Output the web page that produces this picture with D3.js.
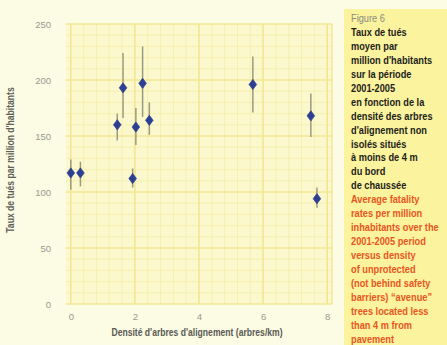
<!DOCTYPE html>
<html>
<head>
<meta charset="utf-8">
<script src="https://cdn.jsdelivr.net/npm/d3@7"></script>
<style>
  html, body { margin: 0; padding: 0; background: #fcfbe4; }
  svg { display: block; }
  .cond { font-family: "Liberation Sans", Arial, sans-serif; }
</style>
</head>
<body>
<svg id="chart" width="447" height="345"></svg>
<script>
// Density of roadside trees (trees/km) per département group
const density = [0.0, 0.3, 1.45, 1.63, 1.93, 2.03, 2.24, 2.45, 5.68, 7.49, 7.68];
// Mean fatality rate per million inhabitants, 2001-2005
const rate = [117, 117, 160, 193, 112, 158, 197, 164, 196, 168, 94];
// Lower and upper bounds of the interval around each rate
const rateLow = [102, 105, 146, 166, 104, 142, 167, 151, 171, 149, 86];
const rateHigh = [129, 127, 170, 224, 121, 175, 230, 180, 221, 188, 104];

const xTicks = [0, 2, 4, 6, 8];
const yTicks = [0, 50, 100, 150, 200, 250];

const captionGrey = ["Figure 6"];
const captionFr = [
  "Taux de tués",
  "moyen par",
  "million d'habitants",
  "sur la période",
  "2001-2005",
  "en fonction de la",
  "densité des arbres",
  "d'alignement non",
  "isolés situés",
  "à moins de 4 m",
  "du bord",
  "de chaussée"
];
const captionEn = [
  "Average fatality",
  "rates per million",
  "inhabitants over the",
  "2001-2005 period",
  "versus density",
  "of unprotected",
  "(not behind safety",
  "barriers) \u201Cavenue\u201D",
  "trees located less",
  "than 4 m from",
  "pavement"
];

const svg = d3.select("#chart");

const x = d3.scaleLinear().domain([-0.15, 8.15]).range([66, 332]);
const y = d3.scaleLinear().domain([0, 250]).range([304, 24]);

// Caption panel on the right
svg.append("rect")
  .attr("x", 344).attr("y", 9).attr("width", 103).attr("height", 336)
  .attr("fill", "#fbf39e");

// Plot background
svg.append("rect")
  .attr("x", x.range()[0]).attr("y", y.range()[1])
  .attr("width", x.range()[1] - x.range()[0])
  .attr("height", y.range()[0] - y.range()[1])
  .attr("fill", "#fbf8cd");

const grid = svg.append("g");

// Minor grid (graph-paper style)
const xMinor = d3.range(0, 8.01, 0.4);
const yMinor = d3.range(0, 250.1, 10);
grid.selectAll(".vminor").data(xMinor).join("line")
  .attr("x1", d => x(d)).attr("x2", d => x(d))
  .attr("y1", y.range()[0]).attr("y2", y.range()[1])
  .attr("stroke", "#f6efae").attr("stroke-width", 1);
grid.selectAll(".hminor").data(yMinor).join("line")
  .attr("x1", x.range()[0]).attr("x2", x.range()[1])
  .attr("y1", d => y(d)).attr("y2", d => y(d))
  .attr("stroke", "#f6efae").attr("stroke-width", 1);

// Major grid
grid.selectAll(".vmajor").data(xTicks).join("line")
  .attr("x1", d => x(d)).attr("x2", d => x(d))
  .attr("y1", y.range()[0]).attr("y2", y.range()[1])
  .attr("stroke", "#f1e489").attr("stroke-width", 1.2);
grid.selectAll(".hmajor").data(yTicks).join("line")
  .attr("x1", x.range()[0]).attr("x2", x.range()[1])
  .attr("y1", d => y(d)).attr("y2", d => y(d))
  .attr("stroke", "#f1e489").attr("stroke-width", 1.2);
grid.append("line")
  .attr("x1", x.range()[1]).attr("x2", x.range()[1])
  .attr("y1", y.range()[0]).attr("y2", y.range()[1])
  .attr("stroke", "#f1e489").attr("stroke-width", 1.2);

// Axes (labels only; the grid carries the lines)
const xAxis = svg.append("g")
  .attr("transform", `translate(0,${y(0) + 5})`)
  .call(d3.axisBottom(x).tickValues(xTicks).tickSize(0).tickPadding(4));
const yAxis = svg.append("g")
  .attr("transform", `translate(${x.range()[0] - 15},0)`)
  .call(d3.axisLeft(y).tickValues(yTicks).tickSize(0).tickPadding(0));
[xAxis, yAxis].forEach(g => {
  g.select(".domain").remove();
  g.selectAll("text")
    .attr("class", "cond")
    .attr("fill", "#9a9a90")
    .style("font-size", "9.5px");
});

// Axis titles (horizontally condensed)
svg.append("g")
  .attr("transform", "translate(197,336) scale(0.86,1)")
  .append("text")
  .attr("class", "cond")
  .attr("text-anchor", "middle")
  .attr("fill", "#5a5a55")
  .style("font-size", "10px")
  .style("font-weight", "bold")
  .text("Densité d'arbres d'alignement (arbres/km)");

svg.append("g")
  .attr("transform", "translate(14,160) rotate(-90) scale(0.86,1)")
  .append("text")
  .attr("class", "cond")
  .attr("text-anchor", "middle")
  .attr("fill", "#5f5f58")
  .style("font-size", "10px")
  .style("font-weight", "bold")
  .text("Taux de tués par million d'habitants");

// Error bars and points
const pts = density.map((d, i) => ({ x: d, y: rate[i], lo: rateLow[i], hi: rateHigh[i] }));
const marks = svg.append("g");
marks.selectAll(".err").data(pts).join("line")
  .attr("x1", d => x(d.x)).attr("x2", d => x(d.x))
  .attr("y1", d => y(d.lo)).attr("y2", d => y(d.hi))
  .attr("stroke", "#9a9a82").attr("stroke-width", 1.5);
marks.selectAll(".pt").data(pts).join("path")
  .attr("transform", d => `translate(${x(d.x)},${y(d.y)}) scale(1.3,1)`)
  .attr("d", d3.symbol().type(d3.symbolDiamond).size(30))
  .attr("fill", "#2c3f93")
  .attr("stroke", "#2c3f93")
  .attr("stroke-width", 0.6)
  .attr("stroke-linejoin", "round");

// Caption text (horizontally condensed)
const cap = svg.append("g")
  .attr("transform", "translate(351,0) scale(0.84,1)")
  .attr("class", "cond")
  .style("font-size", "11px");
const lines = [
  ...captionGrey.map(t => ({ t, c: "#8a8a80", w: "normal" })),
  ...captionFr.map(t => ({ t, c: "#1e1e1a", w: "bold" })),
  ...captionEn.map(t => ({ t, c: "#e8561e", w: "bold" }))
];
cap.selectAll("text").data(lines).join("text")
  .attr("x", 0)
  .attr("y", (d, i) => 22 + i * 13.95)
  .attr("fill", d => d.c)
  .style("font-weight", d => d.w)
  .text(d => d.t);
</script>
</body>
</html>
